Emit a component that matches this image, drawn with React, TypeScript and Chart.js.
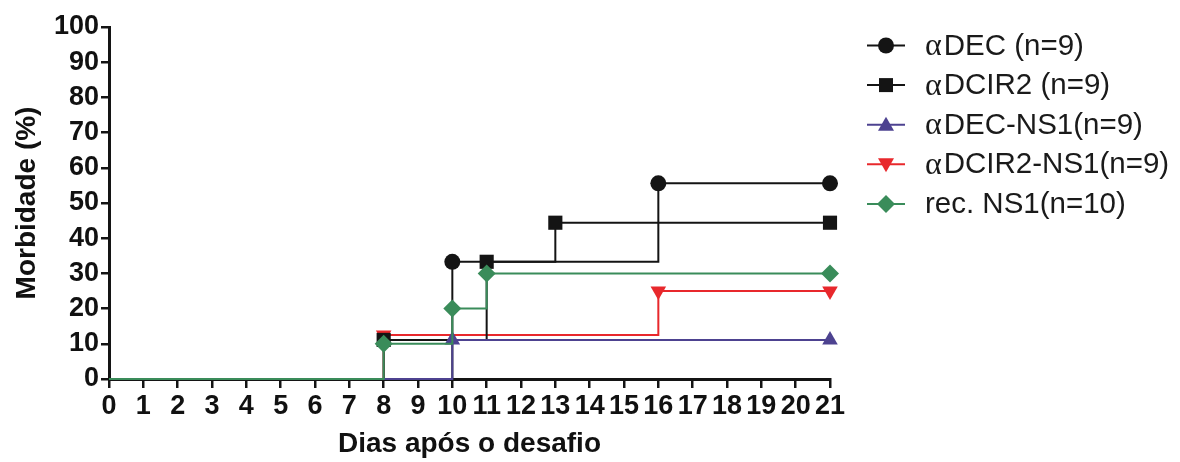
import React, { useEffect, useRef } from "react";
import { Chart, registerables } from "chart.js";

Chart.register(...registerables);

// ---- data ----
const xTicks = [0, 1, 2, 3, 4, 5, 6, 7, 8, 9, 10, 11, 12, 13, 14, 15, 16, 17, 18, 19, 20, 21];
const yTicks = [0, 10, 20, 30, 40, 50, 60, 70, 80, 90, 100];

const decDays = [0, 10, 16, 21];
const decVals = [0, 33.3, 55.6, 55.6];

const dcir2Days = [0, 8, 11, 13, 21];
const dcir2Vals = [0, 11.1, 33.3, 44.4, 44.4];

const decNs1Days = [0, 10, 21];
const decNs1Vals = [0, 11.1, 11.1];

const dcir2Ns1Days = [0, 8, 16, 21];
const dcir2Ns1Vals = [0, 12.5, 25, 25];

const recNs1Days = [0, 8, 10, 11, 21];
const recNs1Vals = [0, 10, 20, 30, 30];

const seriesNames = ["DEC (n=9)", "DCIR2 (n=9)", "DEC-NS1(n=9)", "DCIR2-NS1(n=9)", "rec. NS1(n=10)"];
const seriesPrefix = ["α", "α", "α", "α", ""];

const SANS = "'Liberation Sans', Arial, Helvetica, sans-serif";
const SERIF = "'Liberation Serif', 'DejaVu Serif', serif";

const BLACK = "#141414";
const PURPLE = "#4d4290";
const RED = "#e8282c";
const GREEN = "#3a8c5a";

type Marker = "circle" | "square" | "triUp" | "triDown" | "diamond";

function drawMarker(ctx: CanvasRenderingContext2D, m: Marker, x: number, y: number, color: string) {
  ctx.save();
  ctx.fillStyle = color;
  ctx.beginPath();
  if (m === "circle") {
    ctx.arc(x, y, 8, 0, Math.PI * 2);
  } else if (m === "square") {
    ctx.rect(x - 7, y - 7, 14, 14);
  } else if (m === "triUp") {
    ctx.moveTo(x, y - 8);
    ctx.lineTo(x + 8, y + 6);
    ctx.lineTo(x - 8, y + 6);
    ctx.closePath();
  } else if (m === "triDown") {
    ctx.moveTo(x, y + 8);
    ctx.lineTo(x + 8, y - 6);
    ctx.lineTo(x - 8, y - 6);
    ctx.closePath();
  } else {
    ctx.moveTo(x, y - 9);
    ctx.lineTo(x + 9, y);
    ctx.lineTo(x, y + 9);
    ctx.lineTo(x - 9, y);
    ctx.closePath();
  }
  ctx.fill();
  ctx.restore();
}

const legendPlugin = {
  id: "customLegend",
  afterDraw(chart: any) {
    const ctx: CanvasRenderingContext2D = chart.ctx;
    const colors = [BLACK, BLACK, PURPLE, RED, GREEN];
    const markers: Marker[] = ["circle", "square", "triUp", "triDown", "diamond"];
    const x0 = 867;
    const x1 = 905;
    const top = 45.5;
    const step = 39.6;
    ctx.save();
    for (let i = 0; i < seriesNames.length; i++) {
      const y = top + i * step;
      ctx.strokeStyle = colors[i];
      ctx.lineWidth = 2;
      ctx.beginPath();
      ctx.moveTo(x0, y);
      ctx.lineTo(x1, y);
      ctx.stroke();
      drawMarker(ctx, markers[i], (x0 + x1) / 2, y, colors[i]);
      ctx.fillStyle = "#1a1a1a";
      ctx.textBaseline = "middle";
      ctx.textAlign = "left";
      let tx = 925;
      if (seriesPrefix[i]) {
        ctx.font = `32px ${SERIF}`;
        ctx.fillText(seriesPrefix[i], tx, y + 1);
        tx += ctx.measureText(seriesPrefix[i]).width + 2;
      }
      ctx.font = `29.5px ${SANS}`;
      ctx.fillText(seriesNames[i], tx, y + 1);
    }
    ctx.restore();
  },
};

function toPoints(xs: number[], ys: number[]) {
  return xs.map((x, i) => ({ x, y: ys[i] }));
}

function radii(xs: number[], r: number) {
  return xs.map((_, i) => (i === 0 ? 0 : r));
}

export default function App() {
  const ref = useRef<HTMLCanvasElement | null>(null);

  useEffect(() => {
    document.body.style.margin = "0";
    if (!ref.current) return;
    const mk = (
      label: string,
      xs: number[],
      ys: number[],
      color: string,
      style: any,
      r: number,
      order: number,
      rot = 0
    ) => ({
      label,
      data: toPoints(xs, ys),
      borderColor: color,
      backgroundColor: color,
      borderWidth: 2,
      stepped: "before" as const,
      pointStyle: style,
      pointRadius: radii(xs, r),
      pointHoverRadius: radii(xs, r),
      pointBorderWidth: 0,
      pointRotation: rot,
      clip: false as const,
      order,
      fill: false,
    });

    const chart = new Chart(ref.current, {
      type: "line",
      data: {
        datasets: [
          mk("αDEC (n=9)", decDays, decVals, BLACK, "circle", 8, 3),
          mk("αDCIR2 (n=9)", dcir2Days, dcir2Vals, BLACK, "rect", 10, 2),
          mk("αDEC-NS1(n=9)", decNs1Days, decNs1Vals, PURPLE, "triangle", 9, 1),
          mk("αDCIR2-NS1(n=9)", dcir2Ns1Days, dcir2Ns1Vals, RED, "triangle", 9, 4, 180),
          mk("rec. NS1(n=10)", recNs1Days, recNs1Vals, GREEN, "rectRot", 9, 0),
        ] as any,
      },
      options: {
        animation: false,
        responsive: false,
        maintainAspectRatio: false,
        layout: { padding: { left: 0, top: 27, right: 350, bottom: 0 } },
        plugins: {
          legend: { display: false },
          tooltip: { enabled: false },
        },
        scales: {
          x: {
            type: "linear",
            min: 0,
            max: 21,
            afterBuildTicks: (s: any) => {
              s.ticks = xTicks.map((v) => ({ value: v }));
            },
            afterFit: (s: any) => {
              s.height = 83;
            },
            ticks: {
              autoSkip: false,
              maxRotation: 0,
              font: { family: SANS, size: 27, weight: "bold" },
              color: "#111",
              padding: 2,
            },
            grid: {
              drawOnChartArea: false,
              drawTicks: true,
              tickLength: 9,
              color: BLACK,
              lineWidth: 2.5,
            },
            border: { color: BLACK, width: 3 },
            title: {
              display: true,
              text: "Dias após o desafio",
              font: { family: SANS, size: 28, weight: "bold" },
              color: "#111",
              padding: { top: 0, bottom: 1 },
            },
          },
          y: {
            type: "linear",
            min: 0,
            max: 100,
            afterBuildTicks: (s: any) => {
              s.ticks = yTicks.map((v) => ({ value: v }));
            },
            afterFit: (s: any) => {
              s.width = 109;
            },
            ticks: {
              autoSkip: false,
              font: { family: SANS, size: 27, weight: "bold" },
              color: "#111",
              padding: 2,
            },
            grid: {
              drawOnChartArea: false,
              drawTicks: true,
              tickLength: 8,
              color: BLACK,
              lineWidth: 2.5,
            },
            border: { color: BLACK, width: 3 },
            title: {
              display: true,
              text: "Morbidade (%)",
              font: { family: SANS, size: 28, weight: "bold" },
              color: "#111",
              padding: { top: 10, bottom: 0 },
            },
          },
        },
      } as any,
      plugins: [legendPlugin],
    });
    return () => chart.destroy();
  }, []);

  return (
    <div style={{ width: 1180, height: 462 }}>
      <canvas ref={ref} width={1180} height={462} style={{ display: "block" }} />
    </div>
  );
}
